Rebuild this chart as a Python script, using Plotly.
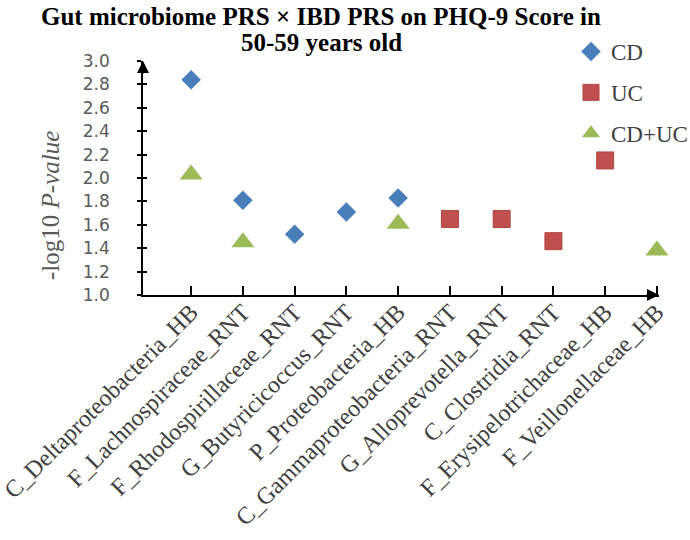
import plotly.graph_objects as go

categories = [
    "C_Deltaproteobacteria_HB",
    "F_Lachnospiraceae_RNT",
    "F_Rhodospirillaceae_RNT",
    "G_Butyricicoccus_RNT",
    "P_Proteobacteria_HB",
    "C_Gammaproteobacteria_RNT",
    "G_Alloprevotella_RNT",
    "C_Clostridia_RNT",
    "F_Erysipelotrichaceae_HB",
    "F_Veillonellaceae_HB",
]
positions = list(range(1, len(categories) + 1))

cd_idx = [1, 2, 3, 4, 5]
cd_vals = [2.84, 1.81, 1.52, 1.71, 1.83]
uc_idx = [6, 7, 8, 9]
uc_vals = [1.65, 1.65, 1.46, 2.15]
cduc_idx = [1, 2, 5, 10]
cduc_vals = [2.03, 1.45, 1.61, 1.38]

y_ticks = [1.0, 1.2, 1.4, 1.6, 1.8, 2.0, 2.2, 2.4, 2.6, 2.8, 3.0]

title_lines = ["Gut microbiome PRS × IBD PRS on PHQ-9 Score in", "50-59 years old"]

SERIF = "Liberation Serif, Times New Roman, serif"

fig = go.Figure()
fig.add_trace(go.Scatter(
    x=cd_idx, y=cd_vals, mode="markers", name="CD", legendgroup="a", cliponaxis=False,
    marker=dict(symbol="diamond", size=15, color="#4A7EBB"),
))
fig.add_trace(go.Scatter(
    x=uc_idx, y=uc_vals, mode="markers", name="UC", legendgroup="b", cliponaxis=False,
    marker=dict(symbol="square", size=17, color="#C0504D",
                line=dict(color="#B04542", width=1)),
))
fig.add_trace(go.Scatter(
    x=cduc_idx, y=cduc_vals, mode="markers", name="CD+UC", legendgroup="c", cliponaxis=False,
    marker=dict(symbol="triangle-up", size=20, color="#9BBB59"),
))
# invisible overlay axis trace for crossing y ticks
fig.add_trace(go.Scatter(x=[None], y=[None], yaxis="y2", showlegend=False, hoverinfo="skip"))

L, R, T, B = 143, 31, 61, 245
W, H = 690, 540
pw = W - L - R
ph = H - T - B

fig.update_layout(
    width=W, height=H,
    margin=dict(l=L, r=R, t=T, b=B, autoexpand=False),
    paper_bgcolor="white", plot_bgcolor="white",
    showlegend=True,
    legend=dict(
        x=(591 - 20 - L) / pw, y=1 + (T - 30) / ph, xanchor="left", yanchor="top",
        font=dict(family=SERIF, size=23, color="#404040"),
        traceorder="grouped", tracegroupgap=8,
        bgcolor="rgba(0,0,0,0)",
    ),
    xaxis=dict(
        range=[0.07, 10.04], tickmode="array", tickvals=positions, ticktext=categories,
        tickangle=-45, showline=True, linecolor="black", linewidth=1.5,
        ticks="inside", ticklen=9, tickwidth=1.5, tickcolor="black",
        showgrid=False, zeroline=False, automargin=False, ticklabelstandoff=-8,
        ticklabeloverflow="allow",
        tickfont=dict(family=SERIF, size=24, color="#404040"),
    ),
    yaxis=dict(
        range=[1.0, 3.0], tickmode="array", tickvals=y_ticks,
        ticktext=[f"{v:.1f}" for v in y_ticks],
        showline=True, linecolor="black", linewidth=1.5,
        ticks="outside", ticklen=4, tickwidth=1.5, tickcolor="black",
        showgrid=False, zeroline=False, ticklabelstandoff=24, automargin=False,
        tickfont=dict(family="DejaVu Sans, sans-serif", size=17, color="#595959"),
    ),
    yaxis2=dict(
        range=[1.0, 3.0], overlaying="y", side="left", tickmode="array", tickvals=y_ticks,
        showticklabels=False, ticks="inside", ticklen=4, tickwidth=1.5, tickcolor="black",
        showgrid=False, zeroline=False, showline=False, automargin=False,
    ),
)

annotations = [
    dict(text=title_lines[0], xref="paper", yref="paper", x=(321 - L) / pw, y=1 + (T - 16) / ph,
         xanchor="center", yanchor="middle", showarrow=False,
         font=dict(family=SERIF, size=25, color="black", weight="bold")),
    dict(text=title_lines[1], xref="paper", yref="paper", x=(321 - L) / pw, y=1 + (T - 42) / ph,
         xanchor="center", yanchor="middle", showarrow=False,
         font=dict(family=SERIF, size=25, color="black", weight="bold")),
    dict(text="-log10 <i>P-value</i>", xref="paper", yref="paper", x=(50 - L) / pw,
         y=(295 - 206) / ph, xanchor="center", yanchor="middle", textangle=-90, showarrow=False,
         font=dict(family=SERIF, size=25, color="#595959")),
    # axis arrowheads
    dict(xref="paper", yref="paper", x=0, y=1, axref="pixel", ayref="pixel", ax=0, ay=14,
         text="", showarrow=True, arrowhead=2, arrowsize=1.6, arrowwidth=1.5, arrowcolor="black"),
    dict(xref="paper", yref="paper", x=1, y=0, axref="pixel", ayref="pixel", ax=-14, ay=0,
         text="", showarrow=True, arrowhead=2, arrowsize=1.6, arrowwidth=1.5, arrowcolor="black"),
]
fig.update_layout(annotations=annotations)

fig.write_html("out.html", config={"displayModeBar": False},
               post_script="document.body.style.margin='0';")
